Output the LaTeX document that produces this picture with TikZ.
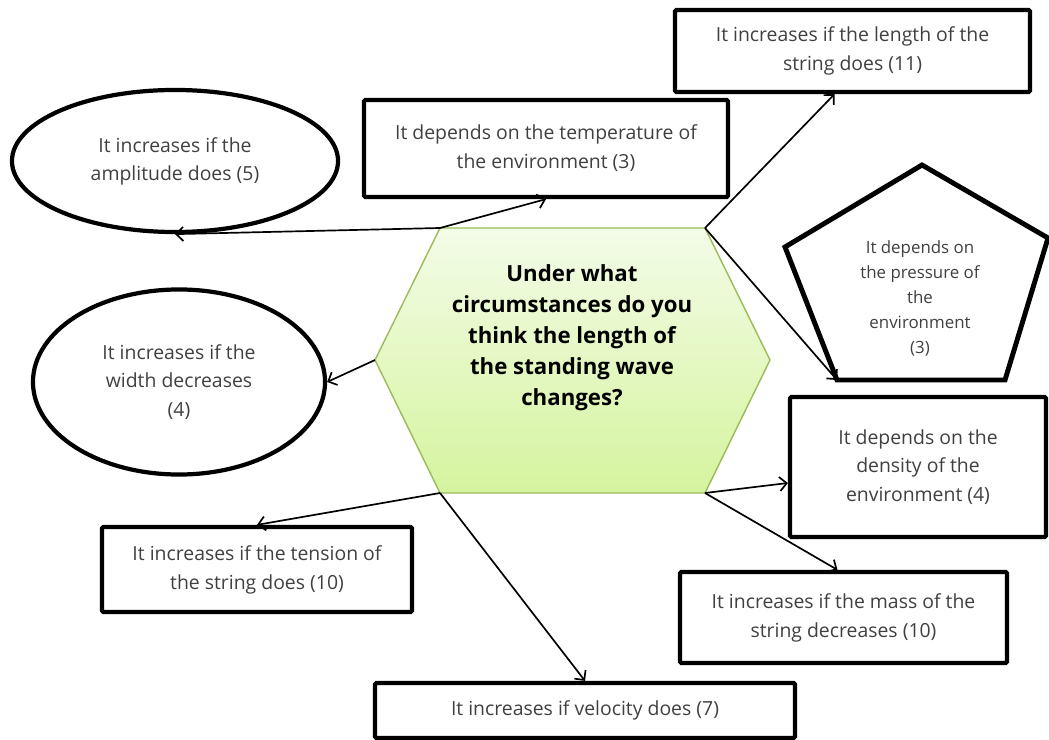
\documentclass[tikz,border=0pt]{standalone}
\usepackage{fontspec}
\setmainfont{Open Sans}
\usepackage{tikz}
\usetikzlibrary{shapes,arrows.meta,positioning,calc,shapes.geometric}
\definecolor{txtgray}{RGB}{64,64,64}
\definecolor{hexgreen}{RGB}{155,187,89}
\definecolor{hextop}{RGB}{243,252,232}
\definecolor{hexbottom}{RGB}{213,244,158}

\begin{document}
\begin{tikzpicture}[
        x=0.025cm, y=-0.025cm,
        box/.style={draw=black, line width=3pt, rectangle, rounded corners=1pt, inner sep=2pt, align=center, text=txtgray, font=\fontsize{13.8}{20.5}\selectfont},
        oval/.style={draw=black, line width=3pt, ellipse, inner sep=1pt, align=center, text=txtgray, font=\fontsize{13.8}{20}\selectfont},
        arr/.style={line width=1.2pt, -{Straight Barb[length=5pt,width=10pt]}}
    ]
        \useasboundingbox (0,0) rectangle (1049,740);

        % Hexagon
        \coordinate (hexl) at (375,360);
        \coordinate (hextl) at (440,228);
        \coordinate (hextr) at (705,228);
        \coordinate (hexr) at (770,360);
        \coordinate (hexbr) at (705,493);
        \coordinate (hexbl) at (440,493);
        \draw[draw=hexgreen, line width=1pt, top color=hextop, bottom color=hexbottom]
            (hexl) -- (hextl) -- (hextr) -- (hexr) -- (hexbr) -- (hexbl) -- cycle;
        \node[align=center, font=\fontsize{15.8}{22}\selectfont\bfseries] (quest) at (572,338)
            {Under what\\circumstances do you\\think the length of\\the standing wave\\changes?};

        % Pentagon
        \coordinate (pentt) at (922,165);
        \coordinate (pentr) at (1048,238);
        \coordinate (pentbr) at (1005,380);
        \coordinate (pentbl) at (837,380);
        \coordinate (pentl) at (785,247);
        \draw[line width=3.5pt, line join=miter] (pentt) -- (pentr) -- (pentbr) -- (pentbl) -- (pentl) -- cycle;
        \node[align=center, text=txtgray, font=\fontsize{12}{17.8}\selectfont] (press) at (920,298)
            {It depends on\\the pressure of\\the\\environment\\(3)};

        % Nodes
        \node[oval, minimum width=8.15cm, minimum height=3.55cm] (amp) at (175,161) {It increases if the\\amplitude does (5)};
        \node[box, minimum width=9.1cm, minimum height=2.425cm] (temp) at (546,148.5) {It depends on the temperature of\\the environment (3)};
        \node[box, minimum width=8.875cm, minimum height=2.05cm] (len) at (852.5,51) {It increases if the length of the\\string does (11)};
        \node[oval, minimum width=7.3cm, minimum height=4.625cm] (wid) at (179,382) {It increases if the\\width decreases\\(4)};
        \node[box, minimum width=6.4cm, minimum height=3.5cm] (dens) at (918,467) {It depends on the\\density of the\\environment (4)};
        \node[box, minimum width=8.175cm, minimum height=2.275cm] (mass) at (843.5,617.5) {It increases if the mass of the\\string decreases (10)};
        \node[box, minimum width=7.75cm, minimum height=2.125cm] (ten) at (257,569.5) {It increases if the tension of\\the string does (10)};
        \node[box, minimum width=10.5cm, minimum height=1.375cm] (vel) at (585,710.5) {It increases if velocity does (7)};

        % Connectors
        \draw[arr] (hextl) -- (amp.south);
        \draw[arr] (hextl) -- (temp.south);
        \draw[arr] (hextr) -- ([xshift=-0.45cm]len.south);
        \draw[arr] (hextr) -- (pentbl);
        \draw[arr] (hexl) -- (wid.east);
        \draw[arr] (hexbl) -- (ten.north);
        \draw[arr] (hexbl) -- (vel.north);
        \draw[arr] (hexbr) -- ([yshift=-0.4cm]dens.west);
        \draw[arr] (hexbr) -- ([xshift=-0.15cm]mass.north);
    \end{tikzpicture}
\end{document}
